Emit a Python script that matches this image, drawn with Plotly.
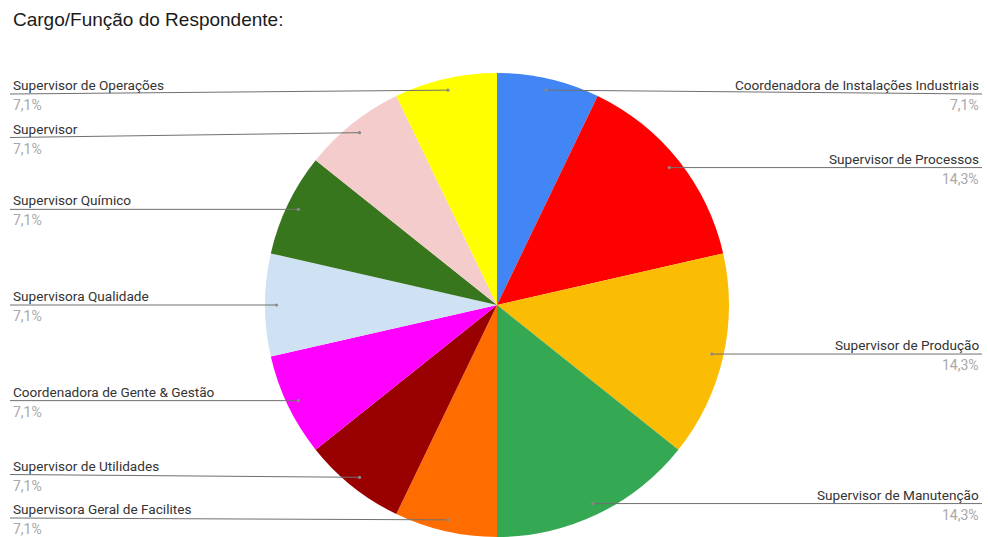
import math
import plotly.graph_objects as go

# ---- data ----
labels = [
    "Coordenadora de Instalações Industriais",
    "Supervisor de Processos",
    "Supervisor de Produção",
    "Supervisor de Manutenção",
    "Supervisora Geral de Facilites",
    "Supervisor de Utilidades",
    "Coordenadora de Gente & Gestão",
    "Supervisora Qualidade",
    "Supervisor Químico",
    "Supervisor",
    "Supervisor de Operações",
]
values = [1, 2, 2, 2, 1, 1, 1, 1, 1, 1, 1]
colors = ["#4285F4", "#FF0000", "#FBBC04", "#34A853", "#FF6D01", "#990000",
          "#FF00FF", "#CFE2F3", "#38761D", "#F4CCCC", "#FFFF00"]
title_text = "Cargo/Função do Respondente:"

# ---- layout geometry (pixels) ----
W, H = 988, 537
CX, CY, R = 497, 305, 232
DOT_R = 0.95 * R
LEFT_X, RIGHT_X = 10, 982
Y_MIN, Y_MAX, GAP = 94, 518, 43.5


def px(x):
    return x / W


def py(y):
    return 1 - y / H


fig = go.Figure()
fig.add_trace(go.Pie(
    labels=labels, values=values, sort=False, direction="clockwise", rotation=0,
    marker=dict(colors=colors, line=dict(width=0)),
    textinfo="none", hoverinfo="label+percent", showlegend=False,
    domain=dict(x=[px(CX - R), px(CX + R)], y=[py(CY + R), py(CY - R)]),
))

total = sum(values)
items = []
cum = 0
for lab, v in zip(labels, values):
    mid = (cum + v / 2) / total
    cum += v
    th = 2 * math.pi * mid
    dx = CX + DOT_R * math.sin(th)
    dy = CY - DOT_R * math.cos(th)
    pct = f"{100 * v / total:.1f}".replace(".", ",") + "%"
    items.append(dict(label=lab, pct=pct, dx=dx, dy=dy, right=math.sin(th) > 0))


def place(group):
    group.sort(key=lambda d: d["dy"])
    ys = [min(max(d["dy"], Y_MIN), Y_MAX) for d in group]
    for i in range(1, len(ys)):
        ys[i] = max(ys[i], ys[i - 1] + GAP)
    ys[-1] = min(ys[-1], Y_MAX)
    for i in range(len(ys) - 2, -1, -1):
        ys[i] = min(ys[i], ys[i + 1] - GAP)
    for d, y in zip(group, ys):
        d["ly"] = y


place([d for d in items if d["right"]])
place([d for d in items if not d["right"]])

shapes = []
annotations = [dict(
    text=title_text, x=px(11), y=py(20), xref="paper", yref="paper",
    xanchor="left", yanchor="middle", showarrow=False,
    font=dict(family="Liberation Sans, Arial", size=19, color="#1a1a1a"),
)]
for d in items:
    ex = RIGHT_X if d["right"] else LEFT_X
    shapes.append(dict(type="line", xref="paper", yref="paper",
                       x0=px(d["dx"]), y0=py(d["dy"]), x1=px(ex), y1=py(d["ly"]),
                       line=dict(color="#707070", width=1)))
    shapes.append(dict(type="circle", xref="paper", yref="paper",
                       x0=px(d["dx"] - 1.6), x1=px(d["dx"] + 1.6),
                       y0=py(d["dy"] + 1.6), y1=py(d["dy"] - 1.6),
                       fillcolor="#8a8a8a", line=dict(width=0)))
    tx = RIGHT_X - 1 if d["right"] else LEFT_X + 1
    anchor = "right" if d["right"] else "left"
    annotations.append(dict(
        text=d["label"], x=px(tx), y=py(d["ly"] - 9), xref="paper", yref="paper",
        xanchor=anchor, yanchor="middle", showarrow=False,
        font=dict(family="Roboto, Arial", size=13.6, color="#333333")))
    annotations.append(dict(
        text=d["pct"], x=px(tx), y=py(d["ly"] + 11), xref="paper", yref="paper",
        xanchor=anchor, yanchor="middle", showarrow=False,
        font=dict(family="Roboto, Arial", size=14, color="#a8a8a8")))

fig.update_layout(
    width=W, height=H, margin=dict(l=0, r=0, t=0, b=0),
    paper_bgcolor="white", plot_bgcolor="white",
    shapes=shapes, annotations=annotations,
)
fig.write_html("out.html", config={"displayModeBar": False},
               post_script="document.body.style.margin='0px';document.body.style.overflow='hidden';")
